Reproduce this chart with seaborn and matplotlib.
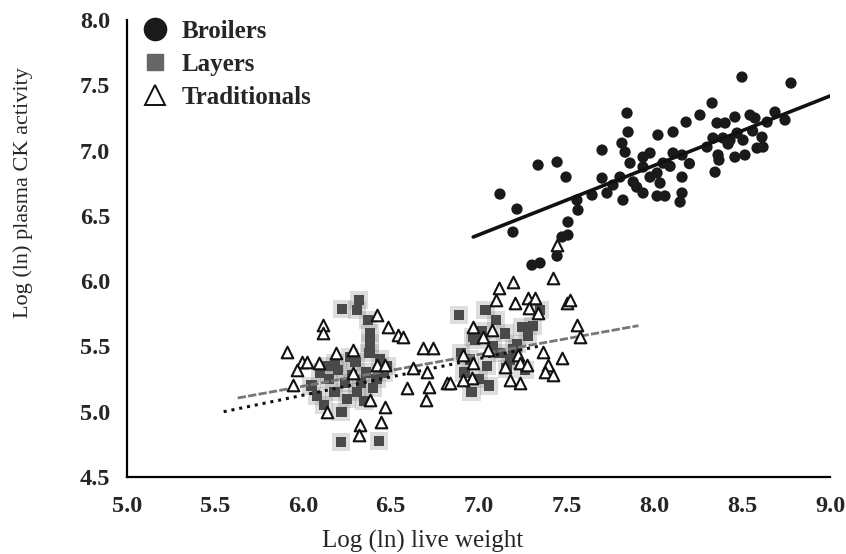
import numpy as np
import pandas as pd
import matplotlib
matplotlib.use("Agg")
import matplotlib.pyplot as plt
import seaborn as sns
from matplotlib.lines import Line2D

# ---------------- data ----------------
broiler_x = [7.845, 7.851, 7.816, 7.834, 7.862, 7.703, 7.339, 7.447, 7.498, 7.122,
             7.219, 7.196, 7.560, 7.566, 7.509, 7.509, 7.475, 7.447, 7.304, 7.350,
             7.646, 7.703, 7.731, 7.765, 7.805, 7.822,
             8.499, 8.778, 8.329, 8.260, 8.181, 8.107, 8.021, 8.357, 8.403, 8.459,
             8.545, 8.573, 8.687, 8.744, 8.642, 8.613, 8.619, 8.585, 8.516, 8.459,
             8.505, 8.471, 8.431, 8.391, 8.334, 8.300, 8.363, 8.368, 8.346, 8.158,
             8.107, 8.158, 8.158, 8.147, 8.061, 8.016, 7.936, 8.033, 8.016, 7.976,
             8.050, 7.976, 7.936, 7.936, 7.880, 7.900, 8.090, 8.200, 8.420, 8.560]
broiler_y = [7.287, 7.142, 7.057, 6.988, 6.904, 7.004, 6.889, 6.912, 6.797, 6.667,
             6.552, 6.376, 6.621, 6.544, 6.453, 6.353, 6.338, 6.192, 6.123, 6.139,
             6.659, 6.789, 6.675, 6.736, 6.797, 6.621,
             7.563, 7.517, 7.364, 7.272, 7.218, 7.142, 7.119, 7.211, 7.211, 7.257,
             7.272, 7.249, 7.295, 7.234, 7.218, 7.103, 7.027, 7.019, 6.966, 6.950,
             7.080, 7.134, 7.080, 7.096, 7.096, 7.027, 6.966, 6.927, 6.835, 6.966,
             6.981, 6.797, 6.675, 6.606, 6.652, 6.652, 6.675, 6.751, 6.828, 6.797,
             6.904, 6.981, 6.950, 6.874, 6.760, 6.720, 6.880, 6.900, 7.050, 7.150]

layer_x = [6.223, 6.320, 6.309, 6.371, 6.383, 6.383, 6.183, 6.218, 6.434,
           6.889, 7.310, 7.265, 7.350, 6.969,
           6.05, 6.08, 6.12, 6.15, 6.18, 6.20, 6.25, 6.28, 6.30, 6.33, 6.36, 6.40,
           6.44, 6.48, 6.10, 6.22, 6.27, 6.35, 6.42, 6.14, 6.31, 6.38, 6.46, 6.24,
           6.92, 6.95, 6.98, 7.02, 7.05, 7.08, 7.12, 7.15, 7.18, 7.22, 7.25, 7.00,
           7.10, 7.20, 6.96, 7.06, 7.16, 7.28, 6.90, 7.04]
layer_y = [5.786, 5.855, 5.779, 5.702, 5.603, 5.526, 5.373, 4.768, 4.776,
           5.740, 5.656, 5.319, 5.779, 5.572,
           5.20, 5.12, 5.05, 5.25, 5.15, 5.32, 5.10, 5.28, 5.38, 5.22, 5.30, 5.18,
           5.40, 5.35, 5.30, 5.00, 5.42, 5.08, 5.25, 5.35, 5.15, 5.45, 5.30, 5.22,
           5.30, 5.40, 5.55, 5.62, 5.35, 5.50, 5.45, 5.60, 5.40, 5.52, 5.65, 5.25,
           5.70, 5.48, 5.15, 5.20, 5.33, 5.58, 5.45, 5.78]

trad_x = [5.910, 6.115, 6.115, 5.996, 6.024, 5.967, 6.092, 5.945, 6.189, 6.422,
          6.485, 6.542, 6.570, 6.422, 6.468, 6.593, 6.468, 6.445, 6.326, 6.320,
          6.138, 6.684, 6.741, 6.707, 6.718, 6.701, 6.821, 6.912, 6.963, 7.117,
          7.196, 7.100, 7.208, 7.282, 7.321, 7.287, 7.339, 7.424, 7.504, 7.521,
          7.560, 7.578, 7.077, 7.026, 6.969, 7.054, 7.225, 7.236, 7.276, 7.367,
          7.475, 7.395, 7.378, 7.424, 7.179, 7.236, 7.151, 6.969, 6.912, 6.838,
          6.627, 6.383, 6.286, 6.286, 7.447]
trad_y = [5.457, 5.664, 5.603, 5.381, 5.381, 5.319, 5.373, 5.204, 5.449, 5.740,
          5.649, 5.587, 5.572, 5.358, 5.358, 5.181, 5.036, 4.921, 4.898, 4.822,
          4.998, 5.488, 5.488, 5.304, 5.189, 5.090, 5.220, 5.434, 5.258, 5.947,
          5.993, 5.855, 5.832, 5.871, 5.871, 5.794, 5.756, 6.024, 5.832, 5.855,
          5.664, 5.572, 5.626, 5.572, 5.649, 5.472, 5.434, 5.373, 5.358, 5.457,
          5.411, 5.358, 5.304, 5.281, 5.243, 5.220, 5.342, 5.373, 5.243, 5.220,
          5.335, 5.090, 5.296, 5.472, 6.276]

# fitted lines: (x_start, x_end, intercept at x_start, slope)
broiler_fit = [6.97, 9.01, 6.338, 0.532]
layer_fit = [5.55, 7.35, 5.000, 0.280]
trad_fit = [5.63, 7.91, 5.105, 0.243]

x_ticks = [5.0, 5.5, 6.0, 6.5, 7.0, 7.5, 8.0, 8.5, 9.0]
y_ticks = [4.5, 5.0, 5.5, 6.0, 6.5, 7.0, 7.5, 8.0]
x_label = "Log (ln) live weight"
y_label = "Log (ln) plasma CK activity"
group_names = ["Broilers", "Layers", "Traditionals"]

# ---------------- figure ----------------
sns.set_style("white")
plt.rcParams['font.family'] = ['Liberation Serif', 'DejaVu Serif']

fig = plt.figure(figsize=(8.46, 5.54), dpi=100)
ax = fig.add_axes([127/846, 1-477/554, (830-127)/846, (477-20)/554])

df_b = pd.DataFrame({"x": broiler_x, "y": broiler_y})
df_l = pd.DataFrame({"x": layer_x, "y": layer_y})
df_t = pd.DataFrame({"x": trad_x, "y": trad_y})

# layers with a soft halo (as in the scanned original)
sns.scatterplot(data=df_l, x="x", y="y", marker="s", s=170, color="#7a7a7a",
                alpha=0.25, edgecolor="none", ax=ax, zorder=2)
sns.scatterplot(data=df_l, x="x", y="y", marker="s", s=55, color="#4a4a4a",
                edgecolor="none", ax=ax, zorder=3)
sns.scatterplot(data=df_t, x="x", y="y", marker="^", s=70, facecolor="white",
                edgecolor="#111111", linewidth=1.5, ax=ax, zorder=4)
sns.scatterplot(data=df_b, x="x", y="y", marker="o", s=66, color="#1a1a1a",
                edgecolor="none", ax=ax, zorder=5)

def fit_df(f):
    xs = np.array([f[0], f[1]])
    return pd.DataFrame({"x": xs, "y": f[2] + f[3] * (xs - f[0])})

sns.lineplot(data=fit_df(broiler_fit), x="x", y="y", color="#111111", lw=2.6,
             ax=ax, zorder=6)
sns.lineplot(data=fit_df(layer_fit), x="x", y="y", color="#111111", lw=2.2,
             linestyle=(0, (1, 1.6)), ax=ax, zorder=3.5)
sns.lineplot(data=fit_df(trad_fit), x="x", y="y", color="#777777", lw=2.0,
             linestyle=(0, (3, 0.8)), ax=ax, zorder=3.6)

ax.set_xlim(5.0, 9.0)
ax.set_ylim(4.5, 8.0)
ax.set_xticks(x_ticks)
ax.set_yticks(y_ticks)
ax.set_xticklabels([f"{v:.1f}" for v in x_ticks], fontsize=17.5, fontweight="bold")
ax.set_yticklabels([f"{v:.1f}" for v in y_ticks], fontsize=17.5, fontweight="bold")
ax.tick_params(axis="x", direction="out", length=3, width=1, color="black", pad=11)
ax.tick_params(axis="y", direction="out", length=3, width=1, color="black", pad=9)

ax.set_xlabel(x_label, fontsize=18)
ax.xaxis.set_label_coords(0.42, -0.116)
ax.set_ylabel(y_label, fontsize=16)
ax.yaxis.label.set_ha("left")
ax.yaxis.set_label_coords(-0.134, 0.348)

for side in ["top", "right"]:
    ax.spines[side].set_visible(False)
for side in ["left", "bottom"]:
    ax.spines[side].set_color("black")
    ax.spines[side].set_linewidth(1.6)

handles = [
    Line2D([], [], marker="o", linestyle="none", markersize=16,
           markerfacecolor="#1a1a1a", markeredgecolor="#1a1a1a"),
    Line2D([], [], marker="s", linestyle="none", markersize=12,
           markerfacecolor="#666666", markeredgecolor="#666666"),
    Line2D([], [], marker="^", linestyle="none", markersize=14,
           markerfacecolor="white", markeredgecolor="#111111", markeredgewidth=1.4),
]
leg = ax.legend(handles, group_names, loc="upper left", bbox_to_anchor=(0.022, 1.0),
                frameon=False, prop={"size": 18, "weight": "bold"},
                handlelength=1.0, handletextpad=0.55, labelspacing=0.40,
                borderpad=0.0, borderaxespad=0.0)

fig.savefig("out.png", dpi=100)
